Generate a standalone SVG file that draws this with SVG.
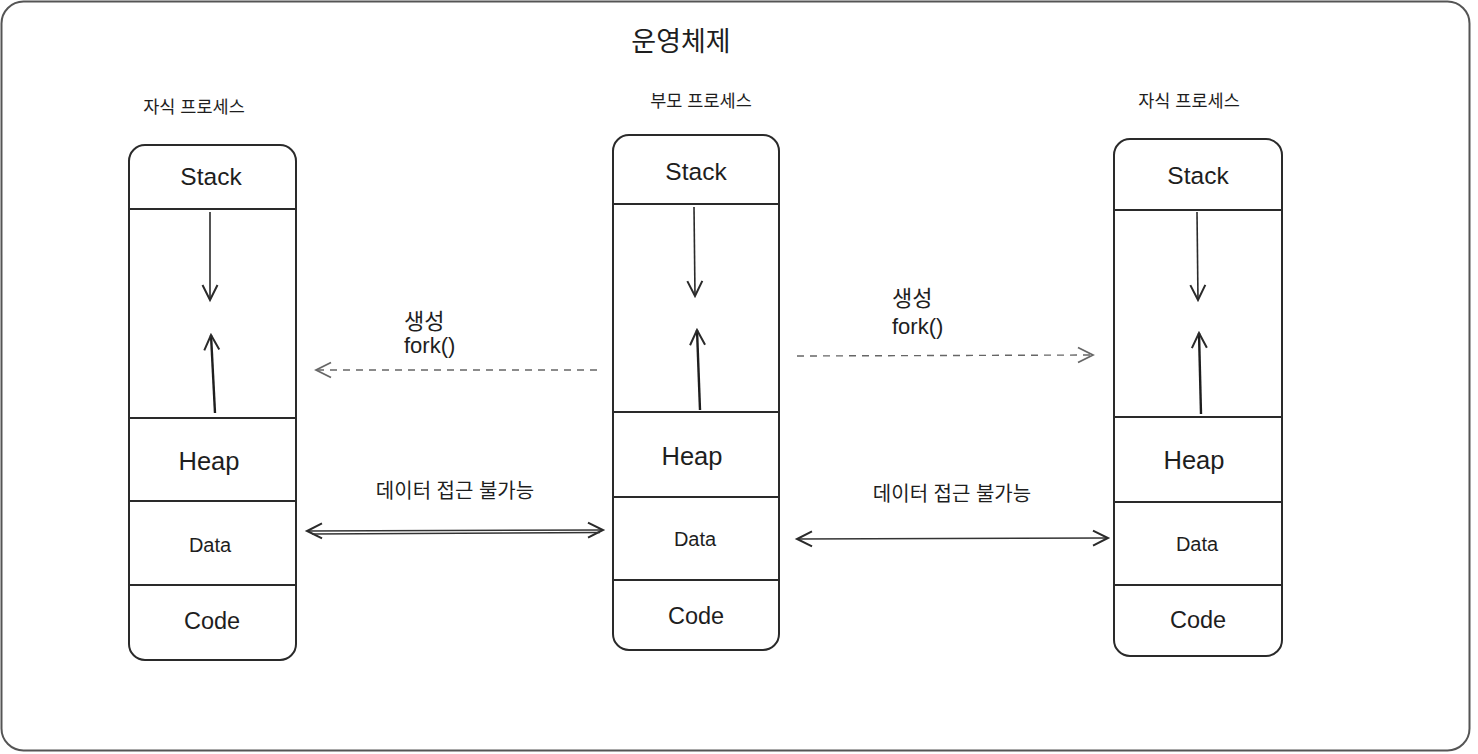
<svg xmlns="http://www.w3.org/2000/svg" width="1478" height="754" viewBox="0 0 1478 754">
<style>
text{font-family:"Liberation Sans","Noto Sans CJK KR",sans-serif;fill:#1e1e1e}
.box{fill:none;stroke:#2a2a2a;stroke-width:2}
.div{stroke:#2a2a2a;stroke-width:2}
.seg{text-anchor:middle;dominant-baseline:central}
.lbl{font-size:17.5px;text-anchor:middle;dominant-baseline:central}
.thin{stroke:#2a2a2a;stroke-width:1.6;fill:none}
.thick{stroke:#1e1e1e;stroke-width:2.4;fill:none}
.dash{stroke:#666;stroke-width:1.4;stroke-dasharray:7 6;fill:none}
.dbl{stroke:#333;stroke-width:1.6;fill:none}
</style>
<defs>
<marker id="ah" markerUnits="userSpaceOnUse" markerWidth="20" markerHeight="20" viewBox="-14 -8 16 16" refX="0" refY="0" orient="auto-start-reverse">
<path d="M-12,-6 L0,0 L-12,6" fill="none" stroke="#2a2a2a" stroke-width="1.6"/>
</marker>
<marker id="ahg" markerUnits="userSpaceOnUse" markerWidth="20" markerHeight="20" viewBox="-14 -8 16 16" refX="0" refY="0" orient="auto-start-reverse">
<path d="M-12,-6 L0,0 L-12,6" fill="none" stroke="#666" stroke-width="1.4"/>
</marker>
</defs>
<rect width="1478" height="754" fill="#ffffff"/>
<g id="frame">
<rect x="1.5" y="1.5" width="1468" height="749" rx="22" fill="none" stroke="#555" stroke-width="2"/>
<text x="681" y="42" font-size="27" text-anchor="middle" dominant-baseline="central">운영체제</text>
</g>
<g id="child-left">
<text class="lbl" x="194" y="107">자식 프로세스</text>
<rect class="box" x="129" y="145" width="167" height="515" rx="16"/>
<line class="div" x1="129" y1="209" x2="296" y2="209"/>
<line class="div" x1="129" y1="418" x2="296" y2="418"/>
<line class="div" x1="129" y1="501" x2="296" y2="501"/>
<line class="div" x1="129" y1="585" x2="296" y2="585"/>
<text class="seg" x="211" y="176" font-size="24.5">Stack</text>
<text class="seg" x="209" y="461" font-size="25.5">Heap</text>
<text class="seg" x="210" y="545" font-size="20">Data</text>
<text class="seg" x="212" y="621" font-size="23.5">Code</text>
<line class="thin" x1="210" y1="212" x2="210" y2="300" marker-end="url(#ah)"/>
<line class="thick" x1="215" y1="413" x2="211" y2="335" marker-end="url(#ah)"/>
</g>
<g id="parent">
<text class="lbl" x="701" y="101">부모 프로세스</text>
<rect class="box" x="613" y="135" width="166" height="515" rx="16"/>
<line class="div" x1="613" y1="204" x2="779" y2="204"/>
<line class="div" x1="613" y1="412" x2="779" y2="412"/>
<line class="div" x1="613" y1="497" x2="779" y2="497"/>
<line class="div" x1="613" y1="580" x2="779" y2="580"/>
<text class="seg" x="696" y="171" font-size="24.5">Stack</text>
<text class="seg" x="692" y="456" font-size="25.5">Heap</text>
<text class="seg" x="695" y="539" font-size="20">Data</text>
<text class="seg" x="696" y="616" font-size="23.5">Code</text>
<line class="thin" x1="694" y1="207" x2="695" y2="296" marker-end="url(#ah)"/>
<line class="thick" x1="700" y1="410" x2="697" y2="330" marker-end="url(#ah)"/>
</g>
<g id="child-right">
<text class="lbl" x="1189" y="101">자식 프로세스</text>
<rect class="box" x="1114" y="139" width="168" height="517" rx="16"/>
<line class="div" x1="1114" y1="210" x2="1282" y2="210"/>
<line class="div" x1="1114" y1="417" x2="1282" y2="417"/>
<line class="div" x1="1114" y1="502" x2="1282" y2="502"/>
<line class="div" x1="1114" y1="585" x2="1282" y2="585"/>
<text class="seg" x="1198" y="175" font-size="24.5">Stack</text>
<text class="seg" x="1194" y="460" font-size="25.5">Heap</text>
<text class="seg" x="1197" y="544" font-size="20">Data</text>
<text class="seg" x="1198" y="620" font-size="23.5">Code</text>
<line class="thin" x1="1197" y1="212" x2="1198" y2="300" marker-end="url(#ah)"/>
<line class="thick" x1="1201" y1="414" x2="1199" y2="333" marker-end="url(#ah)"/>
</g>
<g id="connectors">
<line class="dash" x1="597" y1="370" x2="316" y2="370" marker-end="url(#ahg)"/>
<line class="dash" x1="797" y1="356" x2="1093" y2="355" marker-end="url(#ahg)"/>
<line class="dbl" x1="307" y1="531" x2="603" y2="530" marker-start="url(#ah)" marker-end="url(#ah)"/>
<line class="dbl" x1="312" y1="534" x2="600" y2="532.5"/>
<line class="dbl" x1="797" y1="539" x2="1108" y2="538" marker-start="url(#ah)" marker-end="url(#ah)"/>
</g>
<g id="labels">
<text x="404" y="321" font-size="22" dominant-baseline="central">생성</text>
<text x="404" y="345" font-size="22" dominant-baseline="central">fork()</text>
<text x="892" y="298" font-size="22" dominant-baseline="central">생성</text>
<text x="892" y="326" font-size="22" dominant-baseline="central">fork()</text>
<text x="455" y="491" font-size="20" text-anchor="middle" dominant-baseline="central">데이터 접근 불가능</text>
<text x="952" y="494" font-size="20" text-anchor="middle" dominant-baseline="central">데이터 접근 불가능</text>
</g>
</svg>
